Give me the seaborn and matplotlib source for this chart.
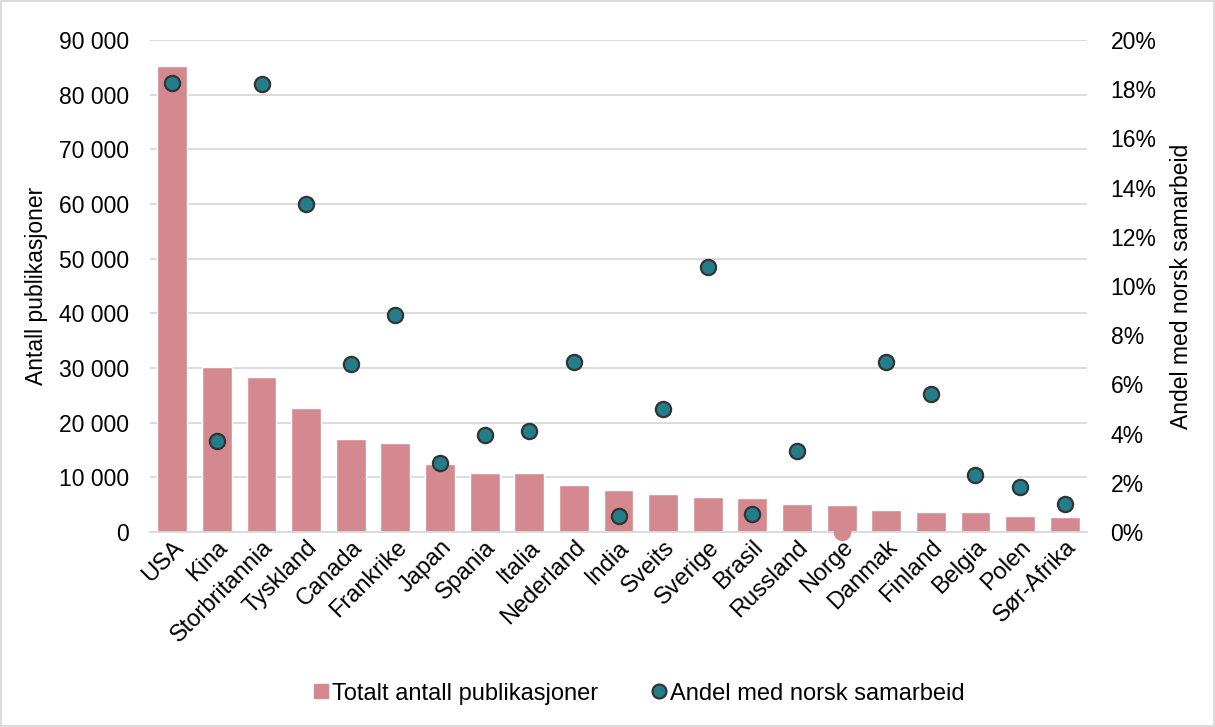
import matplotlib
matplotlib.use("Agg")
import matplotlib.pyplot as plt
from matplotlib.ticker import FuncFormatter, MultipleLocator
from matplotlib.lines import Line2D
import seaborn as sns
import pandas as pd

countries = ["USA", "Kina", "Storbritannia", "Tyskland", "Canada", "Frankrike",
             "Japan", "Spania", "Italia", "Nederland", "India", "Sveits",
             "Sverige", "Brasil", "Russland", "Norge", "Danmak", "Finland",
             "Belgia", "Polen", "Sør-Afrika"]
total_pubs = [85200, 30200, 28400, 22700, 17100, 16300, 12400, 10800, 10800,
              8600, 7600, 7000, 6400, 6300, 5100, 5000, 4000, 3700, 3600,
              3000, 2700]
share_norwegian = [18.26, 3.70, 18.21, 13.35, 6.83, 8.83, 2.80, 3.94, 4.11,
                   6.91, 0.64, 5.01, 10.79, 0.72, 3.28, 0.0, 6.91, 5.60, 2.33,
                   1.82, 1.13]

bar_label = "Totalt antall publikasjoner"
dot_label = "Andel med norsk samarbeid"
left_title = "Antall publikasjoner"
right_title = "Andel med norsk samarbeid"

BAR_COLOR = "#D4888F"
DOT_COLOR = "#237E8A"
GRID_COLOR = "#D9D9D9"
TEXT_COLOR = "#000000"
FS = 16.5

df = pd.DataFrame({"land": countries, "total": total_pubs,
                   "andel": [v / 100 for v in share_norwegian]})
df["pos"] = range(len(df))

sns.set_theme(style="white")
plt.rcParams["font.family"] = ["Liberation Sans", "DejaVu Sans"]
plt.rcParams["text.color"] = TEXT_COLOR

fig = plt.figure(figsize=(12.15, 7.27), dpi=100)
ax = fig.add_axes([150 / 1215, 1 - 532 / 727, 937 / 1215, 492 / 727])

sns.barplot(data=df, x="land", y="total", color=BAR_COLOR, saturation=1,
            width=0.67, ax=ax, zorder=2)
ax.set_ylim(0, 90000)
ax.yaxis.set_major_locator(MultipleLocator(10000))
ax.yaxis.set_major_formatter(FuncFormatter(lambda v, _: f"{int(v):,}".replace(",", " ")))
ax.grid(axis="y", color=GRID_COLOR, linewidth=1.3, zorder=0)
ax.set_axisbelow(True)
for s in ax.spines.values():
    s.set_visible(False)
ax.spines["bottom"].set_visible(True)
ax.spines["bottom"].set_color(GRID_COLOR)
ax.spines["bottom"].set_linewidth(1.3)
ax.set_xlabel("")
ax.set_ylabel(left_title, fontsize=FS, color=TEXT_COLOR, labelpad=8)
ax.tick_params(axis="y", labelsize=FS, colors=TEXT_COLOR, length=0, pad=15)
ax.tick_params(axis="x", labelsize=17, colors=TEXT_COLOR, length=0, pad=3)
for lbl in ax.get_xticklabels():
    lbl.set_rotation(45)
    lbl.set_ha("right")
    lbl.set_rotation_mode("anchor")
ax.set_xlim(-0.5, len(countries) - 0.5)

ax2 = ax.twinx()
main = df[df["andel"] > 0]
zero = df[df["andel"] <= 0]
sns.scatterplot(data=main, x="pos", y="andel", color=DOT_COLOR, s=120,
                edgecolor="#333333", linewidth=1.6, ax=ax2, zorder=3,
                legend=False)
sns.scatterplot(data=zero, x="pos", y="andel", color=BAR_COLOR, s=120,
                edgecolor=BAR_COLOR, linewidth=1.6, ax=ax2, zorder=3,
                legend=False)
for c in ax2.collections:
    c.set_clip_on(False)
ax2.set_ylim(0, 0.20)
ax2.yaxis.set_major_locator(MultipleLocator(0.02))
ax2.yaxis.set_major_formatter(FuncFormatter(lambda v, _: f"{round(v * 100)}%"))
ax2.set_xlim(-0.5, len(countries) - 0.5)
for s in ax2.spines.values():
    s.set_visible(False)
ax2.set_xlabel("")
ax2.set_ylabel(right_title, fontsize=FS, color=TEXT_COLOR, labelpad=10)
ax2.tick_params(axis="y", labelsize=FS, colors=TEXT_COLOR, length=0, pad=17)
ax2.grid(False)

handles = [
    Line2D([0], [0], marker="s", linestyle="none", markersize=10,
           markerfacecolor=BAR_COLOR, markeredgecolor=BAR_COLOR, label=bar_label),
    Line2D([0], [0], marker="o", linestyle="none", markersize=10,
           markerfacecolor=DOT_COLOR, markeredgecolor="#333333",
           markeredgewidth=1.6, label=dot_label),
]
leg = fig.legend(handles=handles, loc="center", bbox_to_anchor=(0.525, 0.046),
                 ncol=2, frameon=False, fontsize=17, handletextpad=0.05,
                 columnspacing=2.2, handlelength=0.8)
for t in leg.get_texts():
    t.set_color(TEXT_COLOR)

fig.patches.append(plt.Rectangle((0.001, 0.001), 0.998, 0.998,
                                 transform=fig.transFigure, fill=False,
                                 edgecolor="#D9D9D9", linewidth=1.3))

fig.savefig("out.png", dpi=100, facecolor="white")
